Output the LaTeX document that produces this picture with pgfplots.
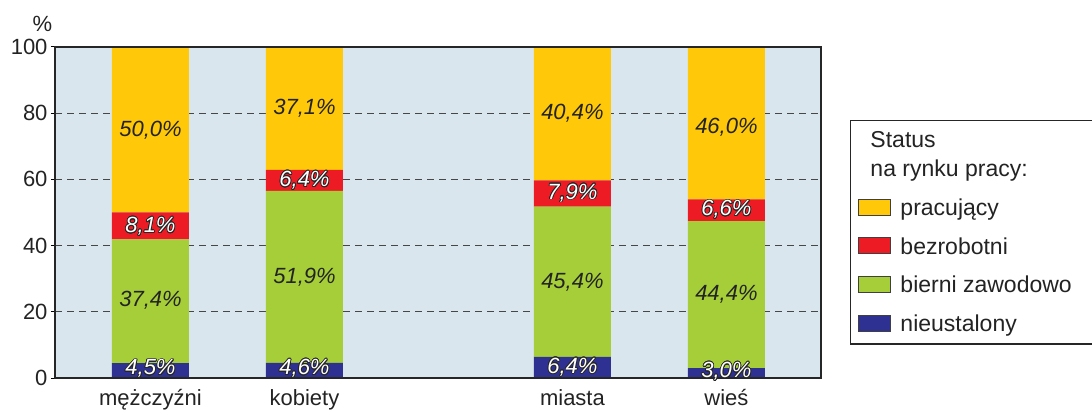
\documentclass[border=0pt]{standalone}
\usepackage{pgfplots}
\pgfplotsset{compat=1.18}
\usepackage{pgfplotstable}
\usepackage{fontspec}
\setmainfont{Liberation Sans}
\usepackage[copies]{contour}
\contourlength{0.7bp}
\contournumber{20}
\definecolor{bgc}{RGB}{218,230,238}
\definecolor{cyel}{RGB}{255,201,10}
\definecolor{cred}{RGB}{237,28,36}
\definecolor{cgrn}{RGB}{166,206,57}
\definecolor{cblu}{RGB}{46,49,146}
\definecolor{cdark}{RGB}{35,35,35}

\pgfplotstableread{
x    nie   bie   bez   pra
0    4.5   37.4  8.1   50.0
1    4.6   51.9  6.4   37.1
2.74 6.4   45.4  7.9   40.4
3.74 3.0   44.4  6.6   46.0
}\data

\pgfplotstableread{
x    y     lab
0    74.9  50,0
0    23.4  37,4
1    81.5  37,1
1    30.5  51,9
2.74 79.9  40,4
2.74 29.0  45,4
3.74 75.8  46,0
3.74 25.2  44,4
}\darklab

\pgfplotstableread{
x    y     lab
0    45.7  8,1
0    2.7   4,5
1    59.6  6,4
1    2.8   4,6
2.74 55.8  7,9
2.74 3.2   6,4
3.74 50.8  6,6
3.74 1.9   3,0
}\whitelab

\newcommand{\bigf}{\fontsize{22bp}{26bp}\selectfont}
\newcommand{\legf}{\fontsize{23bp}{26bp}\selectfont}

\pgfplotsset{
  base/.style={width=766bp, height=331bp, scale only axis,
    xmin=-0.62, xmax=4.354, ymin=0, ymax=100},
  sq/.style={legend image code/.code={\draw[##1, draw=black!75, line width=0.8bp] (0bp,-8bp) rectangle (32bp,8bp);}},
}

\begin{document}
\begin{tikzpicture}
% main axis: background, grid, bars, legend
\begin{axis}[base,
  ybar stacked, bar width=77bp,
  axis background/.style={fill=bgc},
  axis line style={draw=none},
  xtick={0,1,2.74,3.74}, xticklabels={}, ytick={20,40,60,80}, yticklabels={},
  major tick length=0pt,
  ymajorgrids, grid style={draw=black!72, line width=1.3bp, dash pattern=on 7bp off 5bp},
  reverse legend,
  legend style={at={(1.0379,0.7795)}, anchor=north west, draw=black!85, line width=1.3bp,
    fill=white, font=\legf, inner xsep=7bp, inner ysep=8bp, row sep=13bp, column sep=7bp,
    nodes={inner sep=3bp, text=cdark}, cells={anchor=west}},
]
\addplot[fill=cblu, draw=none, sq] table[x=x, y=nie]{\data};
\addlegendentry{\strut nieustalony}
\addplot[fill=cgrn, draw=none, sq] table[x=x, y=bie]{\data};
\addlegendentry{\strut bierni zawodowo\hspace*{12bp}}
\addplot[fill=cred, draw=none, sq] table[x=x, y=bez]{\data};
\addlegendentry{\strut bezrobotni}
\addplot[fill=cyel, draw=none, sq] table[x=x, y=pra]{\data};
\addlegendentry{\strut pracujący}
\addlegendimage{empty legend}
\addlegendentry[align=left, font=\fontsize{23bp}{29bp}\selectfont]{\hspace*{-30bp}Status\\\hspace*{-30bp}na rynku pracy:}
\end{axis}

% overlay axis: frame, ticks, labels, value labels
\begin{axis}[base,
  clip=false,
  axis line style={draw=black!85, line width=1.3bp},
  xtick={0,1,2.74,3.74},
  xticklabels={mężczyźni, kobiety, miasta, wieś},
  x tick style={draw=none},
  ytick={0,20,40,60,80,100},
  ytick pos=left, tick align=outside, major tick length=4bp,
  y tick style={draw=black, line width=1bp},
  /pgf/number format/assume math mode=true,
  tick label style={font=\bigf, text=cdark},
  xticklabel style={yshift=-4bp},
  ylabel={\%},
  ylabel style={rotate=-90, at={(rel axis cs:0,1)}, anchor=center, xshift=-12.5bp, yshift=23bp, font=\bigf, text=cdark},
]
\coordinate (bl) at (rel axis cs:0,0);
\addplot[draw=none, mark=none, nodes near coords={\pgfplotspointmeta\%},
  point meta=explicit symbolic,
  nodes near coords style={anchor=center, font=\bigf\itshape, text=cdark}]
  table[x=x, y=y, meta=lab]{\darklab};
\addplot[draw=none, mark=none, nodes near coords={\contour{black!85}{\pgfplotspointmeta\%}},
  point meta=explicit symbolic,
  nodes near coords style={anchor=center, font=\bigf\itshape, text=white}]
  table[x=x, y=y, meta=lab]{\whitelab};
\end{axis}
\pgfresetboundingbox
\path (bl) ++(-55bp,-37bp) rectangle ++(1092bp,415bp);
\end{tikzpicture}
\end{document}
